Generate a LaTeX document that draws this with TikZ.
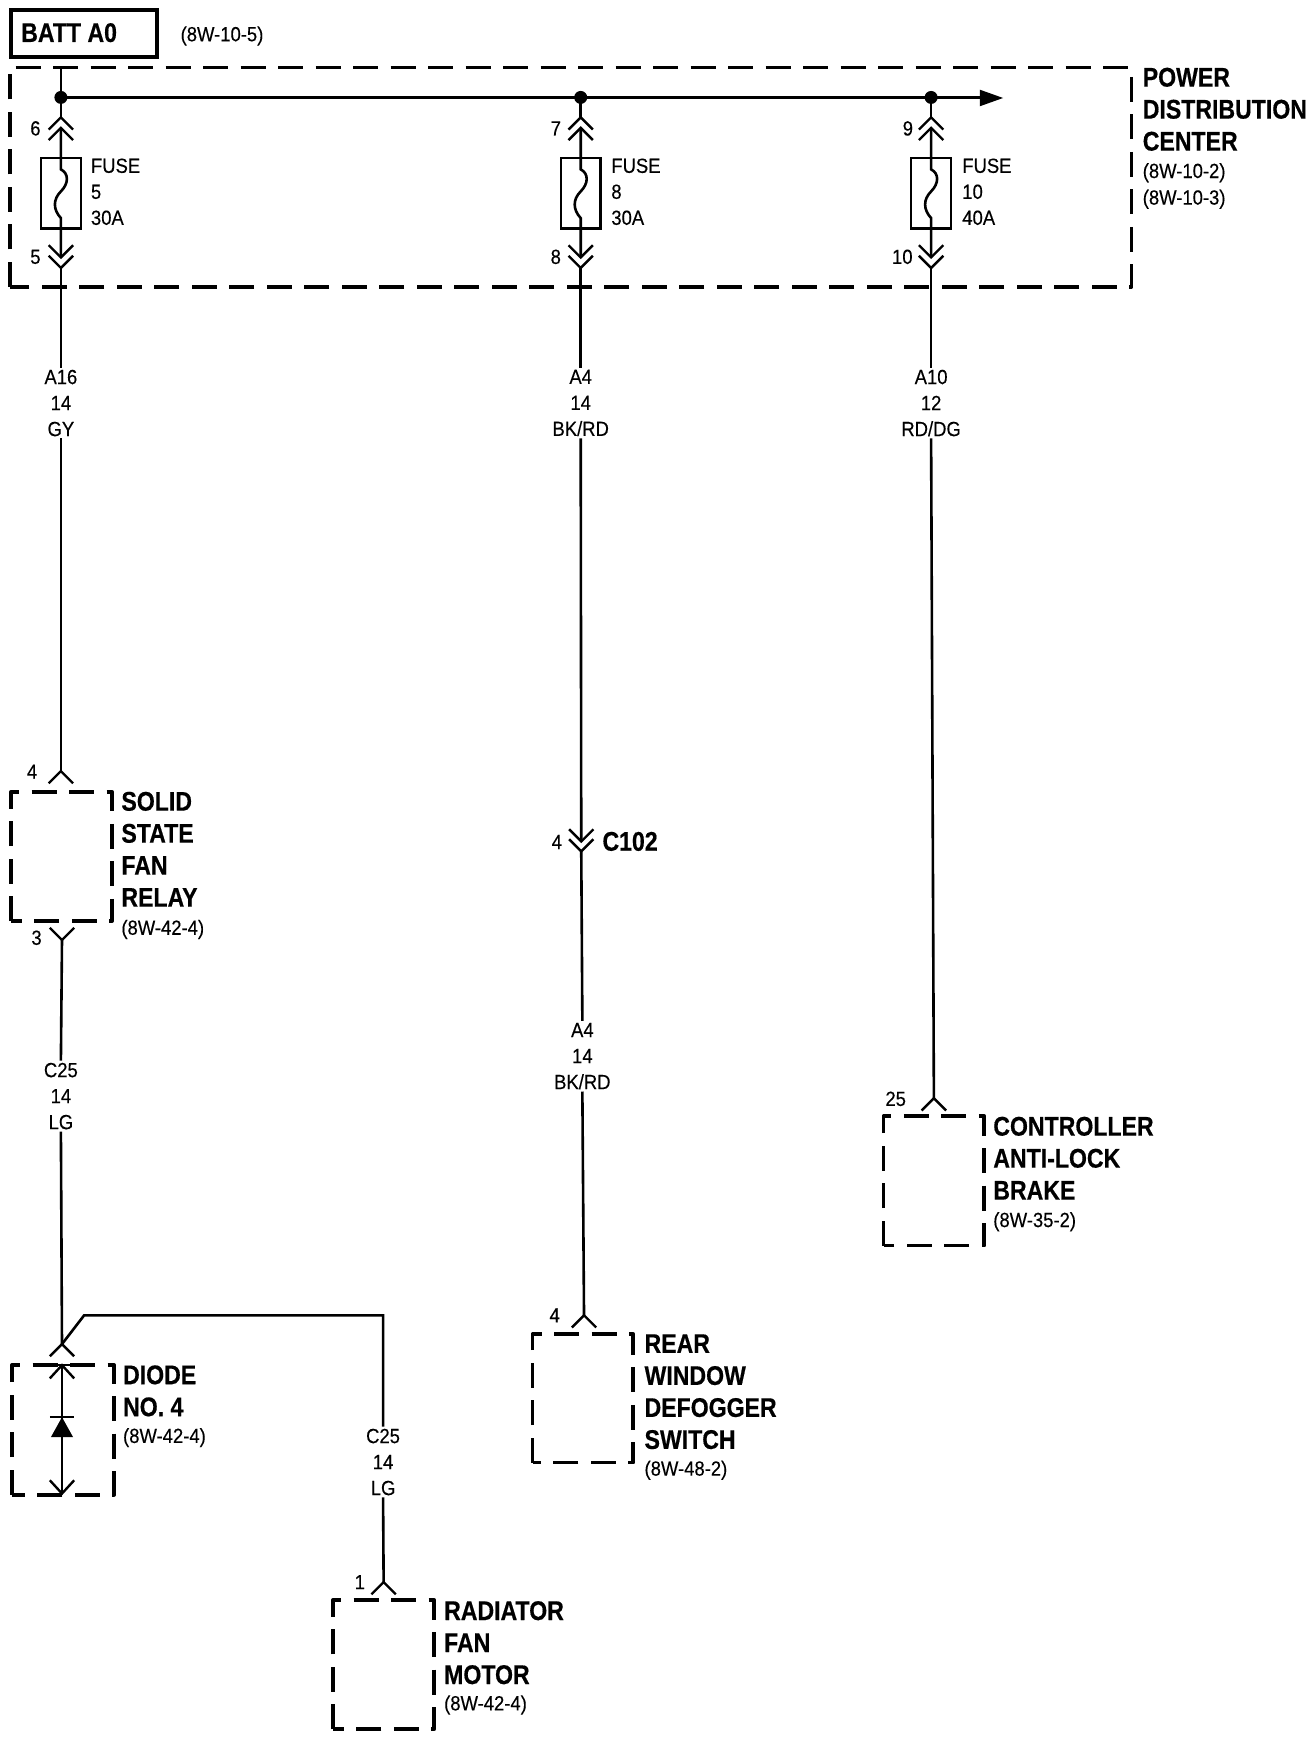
\documentclass[tikz,border=0pt]{standalone}
\usepackage{fontspec}
\newfontfamily\regf[FakeStretch=0.9,FakeBold=0.25]{Liberation Sans}
\newfontfamily\bldf[FakeStretch=0.855,FakeBold=0.5]{Liberation Sans Bold}
\tikzset{
  x=1.10717pt,y=-1.10717pt,
  wire/.style={line width=2.6pt},
  pinline/.style={line width=2.4pt},
  dbox/.style={draw,line width=3.8pt,dash pattern=on 25pt off 12.5pt,line join=round},
  reft/.style={anchor=west,inner sep=0pt,font=\regf\fontsize{20.5}{26}\selectfont},
  wlab/.style={anchor=north,align=center,inner xsep=0pt,inner ysep=2pt,font=\regf\fontsize{20.5}{26}\selectfont},
  pint/.style={inner sep=0pt,font=\regf\fontsize{20.5}{26}\selectfont},
  bname/.style={anchor=north west,align=left,inner sep=0pt,font=\bldf\fontsize{27}{32}\selectfont},
  fuset/.style={anchor=north west,align=left,inner sep=0pt,font=\regf\fontsize{20.5}{26}\selectfont},
  fusebox/.style={draw,line width=2.4pt,minimum width=39.8pt,minimum height=70.5pt,inner sep=0pt},
  dot/.style={circle,fill=black,minimum size=13pt,inner sep=0pt},
}
% single chevrons: apex at the named coordinate
\newcommand{\chup}[1]{\draw[pinline,shift={(#1)}] (-11,11) -- (0,0) -- (11,11);}
\newcommand{\chdn}[1]{\draw[pinline,shift={(#1)}] (-11,-11) -- (0,0) -- (11,-11);}
% a fuse column: #1 name, #2 x
\newcommand{\fusecol}[2]{%
  \coordinate (#1uo) at (#2,105);
  \coordinate (#1ui) at (#2,114.5);
  \coordinate (#1di) at (#2,231.5);
  \coordinate (#1do) at (#2,241);
  \coordinate (#1a) at (#2,152);
  \coordinate (#1b) at (#2,196);
  \node[fusebox] (#1) at (#2,173.5) {};
  \chup{#1uo}\chup{#1ui}\chdn{#1di}\chdn{#1do}
  \draw[wire] (#1ui) -- (#1a) .. controls ([xshift=8pt,yshift=-4pt]#1a) and ([xshift=8pt,yshift=-14pt]#1a) .. ([yshift=-22pt]#1a)
     .. controls ([xshift=-8pt,yshift=-30pt]#1a) and ([xshift=-8pt,yshift=-40pt]#1a) .. (#1b) -- (#1di);
}
\begin{document}
\begin{tikzpicture}
\useasboundingbox (0,-1) rectangle (1185,1568.8);

% BATT
\node[draw,line width=3.6pt,minimum width=146pt,minimum height=47pt,inner sep=0pt] (batt) at (76,29) {};
\node[anchor=west,inner sep=0pt,font=\bldf\fontsize{27}{32}\selectfont] (battt) at (19,28.5) {BATT A0};
\node[reft] (battref) at (163,31.5) {(8W-10-5)};

% PDC
\draw[dbox] (9,258) -- (9,60) -- (1022,60) -- (1022,258) -- cycle;
\node[bname] (pdct) at (1032,60) {POWER\\DISTRIBUTION\\CENTER};
\node[reft] (pdcr1) at (1032,155) {(8W-10-2)};
\node[reft] (pdcr2) at (1032,179) {(8W-10-3)};

% Bus
\coordinate (bustop) at (55,60);
\node[dot] (d1) at (55,87) {};
\node[dot] (d2) at (524.5,87) {};
\node[dot] (d3) at (841,87) {};
\coordinate (busend) at (887,87);
\draw[wire] (bustop) -- (d1.center) -- (d2.center) -- (d3.center) -- (busend);
\fill (885,80) -- (906,87.5) -- (885,95) -- cycle;

% Fuses
\fusecol{fa}{55}
\fusecol{fb}{524.5}
\fusecol{fc}{841}
\draw[wire] (d1.center) -- (fauo);
\draw[wire] (d2.center) -- (fbuo);
\draw[wire] (d3.center) -- (fcuo);
\node[fuset] (fat) at (82,142) {FUSE\\5\\30A};
\node[fuset] (fbt) at (552,142) {FUSE\\8\\30A};
\node[fuset] (fct) at (869,142) {FUSE\\10\\40A};
\node[pint] (p6) at (32,115) {6};
\node[pint] (p5) at (32,231) {5};
\node[pint] (p7) at (502,115) {7};
\node[pint] (p8) at (502,231) {8};
\node[pint] (p9) at (820,115) {9};
\node[pint] (p10) at (815,231) {10};

% Wire labels
\node[wlab] (la16) at (55,331) {A16\\14\\GY};
\node[wlab] (la4) at (524.5,331) {A4\\14\\BK/RD};
\node[wlab] (la10) at (841,331) {A10\\12\\RD/DG};
\node[wlab] (lc25a) at (55,957) {C25\\14\\LG};
\node[wlab] (la4b) at (526,921) {A4\\14\\BK/RD};
\node[wlab] (lc25b) at (346,1287.5) {C25\\14\\LG};

\draw[wire] (fado) -- (fado |- la16.north);
\draw[wire] (fbdo) -- (fbdo |- la4.north);
\draw[wire] (fcdo) -- (fcdo |- la10.north);

% Solid state fan relay
\coordinate (rin) at (55,695.5);
\coordinate (rout) at (56,848);
\chup{rin}\chdn{rout}
\draw[dbox] (10,831) -- (10,714) -- (101,714) -- (101,831) -- cycle;
\node[pint] (p4a) at (29,696) {4};
\node[pint] (p3a) at (33,846) {3};
\node[bname] (rt) at (109.5,714) {SOLID\\STATE\\FAN\\RELAY};
\node[reft] (rr) at (109.5,838.5) {(8W-42-4)};
\draw[wire] (la16.south) -- (rin);
\draw[wire] (rout) -- (lc25a.north);

% Diode
\coordinate (din) at (56,1213);
\coordinate (dtop) at (56,1232);
\coordinate (dbot) at (56,1348);
\coordinate (bend1) at (76,1187);
\coordinate (bend2) at (346,1187);
\draw[pinline] (45,1224) -- (din) -- (67,1224);
\draw[dbox] (11,1349) -- (11,1232) -- (103,1232) -- (103,1349) -- cycle;
\draw[pinline] (44,1232) -- (68,1232);
\draw[pinline] (45,1244) -- (dtop) -- (67,1244);
\draw[pinline] (45,1336) -- (dbot) -- (67,1336);
\draw[wire] (dtop) -- (dbot);
\fill (56,1279) -- (66,1297) -- (46,1297) -- cycle;
\draw[pinline] (45,1279) -- (67,1279);
\node[bname] (dt) at (111,1232) {DIODE\\NO. 4};
\node[reft] (dr) at (111,1297.5) {(8W-42-4)};
\draw[wire] (lc25a.south) -- (din);
\draw[wire] (din) -- (bend1) -- (bend2) -- (lc25b.north);

% Radiator fan motor
\coordinate (min) at (346.5,1428);
\chup{min}
\draw[dbox] (301,1561) -- (301,1444) -- (392,1444) -- (392,1561) -- cycle;
\node[pint] (p1) at (325,1428) {1};
\node[bname] (mt) at (401,1445) {RADIATOR\\FAN\\MOTOR};
\node[reft] (mr) at (401,1539) {(8W-42-4)};
\draw[wire] (lc25b.south) -- (min);

% C102 and rear window
\coordinate (ci) at (525,759);
\coordinate (co) at (525,768);
\chdn{ci}\chdn{co}
\node[pint] (p4c) at (503,759.5) {4};
\node[anchor=west,inner sep=0pt,font=\bldf\fontsize{27}{32}\selectfont] (c102) at (544,759) {C102};
\coordinate (win) at (527.5,1187);
\chup{win}
\draw[dbox] (481,1320) -- (481,1204) -- (572,1204) -- (572,1320) -- cycle;
\node[pint] (p4d) at (501,1187) {4};
\node[bname] (wt) at (582,1204) {REAR\\WINDOW\\DEFOGGER\\SWITCH};
\node[reft] (wr) at (582,1327) {(8W-48-2)};
\draw[wire] (la4.south) -- (ci);
\draw[wire] (co) -- (la4b.north);
\draw[wire] (la4b.south) -- (win);

% Controller
\coordinate (cin) at (843.5,991);
\chup{cin}
\draw[dbox] (798,1124) -- (798,1007) -- (889,1007) -- (889,1124) -- cycle;
\node[pint] (p25) at (809,991.5) {25};
\node[bname] (ct) at (897,1007.5) {CONTROLLER\\ANTI-LOCK\\BRAKE};
\node[reft] (cr) at (897,1102.5) {(8W-35-2)};
\draw[wire] (la10.south) -- (cin);
\end{tikzpicture}
\end{document}
